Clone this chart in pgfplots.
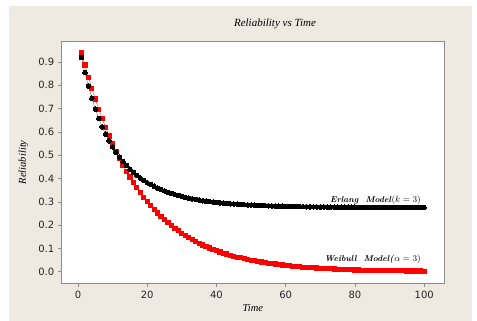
\documentclass[border=0pt]{standalone}
\usepackage{fontspec}
\usepackage{pgfplots}
\pgfplotsset{compat=1.18}
\newfontfamily\dejavu{DejaVu Sans}
\newfontfamily\libserif{Liberation Serif}
\definecolor{beige}{HTML}{EEEAE1}
\definecolor{framegray}{HTML}{8C8C8C}
\begin{document}
\begin{tikzpicture}
\fill[white] (0,0) rectangle (477bp,321bp);
\fill[beige] (9bp,0) rectangle (472bp,315bp);
\begin{axis}[
  at={(61.3bp,37.7bp)}, anchor=south west,
  scale only axis, width=383bp, height=242bp,
  xmin=-4.82, xmax=105.8, ymin=-0.0494, ymax=0.989,
  axis background/.style={fill=white},
  axis line style={framegray, line width=0.8pt},
  xtick={0,20,40,60,80,100},
  ytick={0,0.1,0.2,0.3,0.4,0.5,0.6,0.7,0.8,0.9},
  yticklabel style={/pgf/number format/.cd, fixed, fixed zerofill, precision=1},
  /pgf/number format/assume math mode=true,
  tick label style={font=\dejavu\fontsize{10bp}{12bp}\selectfont, text=black!85},
  tick align=outside, major tick length=3.5bp,
  tick style={framegray, line width=0.6pt},
  xtick pos=left, ytick pos=left,
  xticklabel style={yshift=-0.5bp},
  clip=false,
]
\addplot[red, line width=0.3pt, mark=square*, mark size=2.1bp, mark options={red, draw=red, line width=0pt}] table {
1 0.942
2 0.887
3 0.835
4 0.787
5 0.741
6 0.698
7 0.657
8 0.619
9 0.583
10 0.549
11 0.517
12 0.487
13 0.458
14 0.432
15 0.407
16 0.383
17 0.361
18 0.340
19 0.320
20 0.301
21 0.284
22 0.267
23 0.252
24 0.237
25 0.223
26 0.210
27 0.198
28 0.186
29 0.176
30 0.165
31 0.156
32 0.147
33 0.138
34 0.130
35 0.122
36 0.115
37 0.109
38 0.102
39 0.096
40 0.091
41 0.085
42 0.080
43 0.076
44 0.071
45 0.067
46 0.063
47 0.060
48 0.056
49 0.053
50 0.050
51 0.047
52 0.044
53 0.042
54 0.039
55 0.037
56 0.035
57 0.033
58 0.031
59 0.029
60 0.027
61 0.026
62 0.024
63 0.023
64 0.021
65 0.020
66 0.019
67 0.018
68 0.017
69 0.016
70 0.015
71 0.014
72 0.013
73 0.013
74 0.012
75 0.011
76 0.010
77 0.010
78 0.009
79 0.009
80 0.008
81 0.008
82 0.007
83 0.007
84 0.006
85 0.006
86 0.006
87 0.005
88 0.005
89 0.005
90 0.005
91 0.004
92 0.004
93 0.004
94 0.004
95 0.003
96 0.003
97 0.003
98 0.003
99 0.003
100 0.002
};
\addplot[black!70, line width=0.3pt, mark=*, mark size=2.3bp, mark options={black, draw=black, line width=0pt}] table {
1 0.920
2 0.855
3 0.797
4 0.745
5 0.698
6 0.658
7 0.622
8 0.590
9 0.562
10 0.536
11 0.513
12 0.492
13 0.473
14 0.456
15 0.440
16 0.426
17 0.413
18 0.402
19 0.392
20 0.382
21 0.375
22 0.367
23 0.359
24 0.353
25 0.347
26 0.341
27 0.336
28 0.331
29 0.327
30 0.323
31 0.319
32 0.316
33 0.313
34 0.310
35 0.308
36 0.305
37 0.303
38 0.301
39 0.299
40 0.298
41 0.296
42 0.295
43 0.293
44 0.292
45 0.291
46 0.290
47 0.289
48 0.288
49 0.287
50 0.2864
51 0.2856
52 0.2849
53 0.2843
54 0.2837
55 0.2832
56 0.2826
57 0.2822
58 0.2817
59 0.2813
60 0.2809
61 0.2805
62 0.2802
63 0.2799
64 0.2796
65 0.2793
66 0.2790
67 0.2788
68 0.2786
69 0.2783
70 0.2781
71 0.2779
72 0.2778
73 0.2776
74 0.2774
75 0.2773
76 0.2772
77 0.2771
78 0.2770
79 0.2769
80 0.2768
81 0.2767
82 0.2766
83 0.2765
84 0.2764
85 0.2763
86 0.2762
87 0.2762
88 0.2761
89 0.2761
90 0.2760
91 0.2759
92 0.2759
93 0.2758
94 0.2758
95 0.2757
96 0.2757
97 0.2756
98 0.2756
99 0.2755
100 0.2755
};
\node[anchor=east, inner sep=0pt, font=\fontsize{8.5bp}{10bp}\selectfont] at (axis cs:99.05,0.3056) {\textbf{\textit{Erlang\ \ Model}}$(k=3)$};
\node[anchor=east, inner sep=0pt, font=\fontsize{8.5bp}{10bp}\selectfont] at (axis cs:99.05,0.0537) {\textbf{\textit{Weibull\ \ Model(}}$\alpha=3)$};
\end{axis}
\node[font=\libserif\itshape\fontsize{11bp}{13bp}\selectfont] at (275bp,297bp) {Reliability vs Time};
\node[rotate=90, font=\libserif\itshape\fontsize{10.5bp}{12bp}\selectfont] at (23.3bp,158.7bp) {Reliability};
\node[font=\libserif\itshape\fontsize{10.5bp}{12bp}\selectfont] at (252.8bp,13bp) {Time};
\pgfresetboundingbox
\path (0,0) rectangle (477bp,321bp);
\end{tikzpicture}
\end{document}
